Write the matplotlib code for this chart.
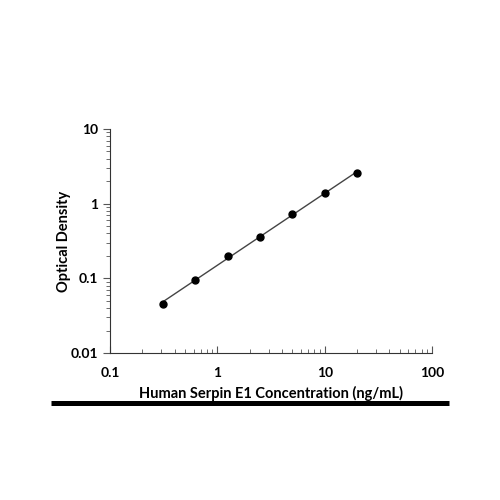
import numpy as np
import matplotlib
matplotlib.use('Agg')
import matplotlib.pyplot as plt
from matplotlib.lines import Line2D

# Standard curve data
conc = [0.3125, 0.625, 1.25, 2.5, 5, 10, 20]
od = [0.046, 0.095, 0.20, 0.36, 0.72, 1.40, 2.55]

plt.rcParams['font.family'] = ['Lato', 'DejaVu Sans']
plt.rcParams['font.weight'] = 'bold'

fig = plt.figure(figsize=(5, 5), dpi=100)
ax = fig.add_axes([0.22, 0.294, 0.644, 0.448])

# power-law fit on log-log
k, b = np.polyfit(np.log10(conc), np.log10(od), 1)
xf = np.array([conc[0], conc[-1]])
ax.plot(xf, 10 ** (k * np.log10(xf) + b), color='#444444', lw=1)
ax.plot(conc, od, 'o', color='black', ms=5)

ax.set_xscale('log')
ax.set_yscale('log')
ax.set_xlim(0.1, 100)
ax.set_ylim(0.01, 10)
ax.set_xticks([0.1, 1, 10, 100])
ax.set_xticklabels(['0.1', '1', '10', '100'])
ax.set_yticks([0.01, 0.1, 1, 10])
ax.set_yticklabels(['0.01', '0.1', '1', '10'])

for s in ['top', 'right']:
    ax.spines[s].set_visible(False)
ax.spines['left'].set_color('#333333')
ax.spines['bottom'].set_color('#333333')
ax.tick_params(axis='x', which='both', direction='in', color='#555555', labelsize=10, pad=10)
ax.tick_params(axis='y', which='both', direction='out', color='#555555', labelsize=10)
ax.tick_params(which='major', length=5)
ax.tick_params(which='minor', length=3)

ax.set_ylabel('Optical Density', fontsize=10.5, fontweight='bold', labelpad=0)
ax.set_xlabel('Human Serpin E1 Concentration (ng/mL)', fontsize=10.5, fontweight='bold', labelpad=5)

fig.add_artist(Line2D([0.102, 0.898], [0.195, 0.195], color='black', lw=3.6,
                      solid_capstyle='butt', transform=fig.transFigure))

fig.savefig('out.png', dpi=100)
